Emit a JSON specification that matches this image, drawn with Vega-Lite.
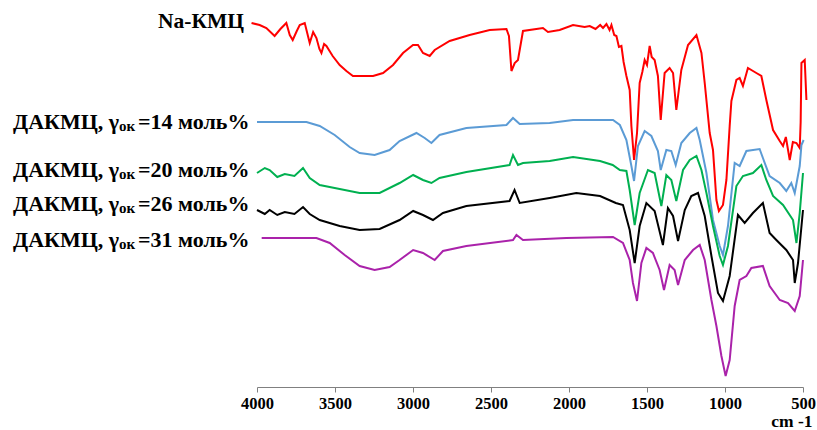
{
  "$schema": "https://vega.github.io/schema/vega-lite/v6.json",
  "autosize": "none",
  "width": 546,
  "height": 380,
  "padding": {"left": 257, "top": 7, "right": 14, "bottom": 43},
  "background": "white",
  "config": {"view": {"stroke": null}},
  "datasets": {
    "spectra": [
      {"series":"Na-КМЦ","wavenumber":4035,"signal":364},{"series":"Na-КМЦ","wavenumber":3983,"signal":362},{"series":"Na-КМЦ","wavenumber":3940,"signal":359},{"series":"Na-КМЦ","wavenumber":3887,"signal":351},{"series":"Na-КМЦ","wavenumber":3850,"signal":358},{"series":"Na-КМЦ","wavenumber":3812,"signal":364},{"series":"Na-КМЦ","wavenumber":3790,"signal":352},{"series":"Na-КМЦ","wavenumber":3771,"signal":347},{"series":"Na-КМЦ","wavenumber":3745,"signal":356},{"series":"Na-КМЦ","wavenumber":3726,"signal":362},{"series":"Na-КМЦ","wavenumber":3694,"signal":364},{"series":"Na-КМЦ","wavenumber":3662,"signal":344},{"series":"Na-КМЦ","wavenumber":3640,"signal":355},{"series":"Na-КМЦ","wavenumber":3619,"signal":349},{"series":"Na-КМЦ","wavenumber":3600,"signal":338},{"series":"Na-КМЦ","wavenumber":3587,"signal":334},{"series":"Na-КМЦ","wavenumber":3570,"signal":343},{"series":"Na-КМЦ","wavenumber":3555,"signal":341},{"series":"Na-КМЦ","wavenumber":3515,"signal":331},{"series":"Na-КМЦ","wavenumber":3470,"signal":322},{"series":"Na-КМЦ","wavenumber":3427,"signal":316},{"series":"Na-КМЦ","wavenumber":3385,"signal":311},{"series":"Na-КМЦ","wavenumber":3256,"signal":311},{"series":"Na-КМЦ","wavenumber":3192,"signal":314},{"series":"Na-КМЦ","wavenumber":3128,"signal":322},{"series":"Na-КМЦ","wavenumber":3064,"signal":334},{"series":"Na-КМЦ","wavenumber":3000,"signal":342},{"series":"Na-КМЦ","wavenumber":2968,"signal":342},{"series":"Na-КМЦ","wavenumber":2936,"signal":334},{"series":"Na-КМЦ","wavenumber":2893,"signal":331},{"series":"Na-КМЦ","wavenumber":2861,"signal":337},{"series":"Na-КМЦ","wavenumber":2765,"signal":346},{"series":"Na-КМЦ","wavenumber":2637,"signal":352},{"series":"Na-КМЦ","wavenumber":2508,"signal":357},{"series":"Na-КМЦ","wavenumber":2401,"signal":358},{"series":"Na-КМЦ","wavenumber":2385,"signal":351},{"series":"Na-КМЦ","wavenumber":2369,"signal":316},{"series":"Na-КМЦ","wavenumber":2348,"signal":324},{"series":"Na-КМЦ","wavenumber":2327,"signal":327},{"series":"Na-КМЦ","wavenumber":2295,"signal":356},{"series":"Na-КМЦ","wavenumber":2167,"signal":359},{"series":"Na-КМЦ","wavenumber":2135,"signal":355},{"series":"Na-КМЦ","wavenumber":2060,"signal":357},{"series":"Na-КМЦ","wavenumber":1974,"signal":362},{"series":"Na-КМЦ","wavenumber":1900,"signal":360},{"series":"Na-КМЦ","wavenumber":1867,"signal":361},{"series":"Na-КМЦ","wavenumber":1830,"signal":358},{"series":"Na-КМЦ","wavenumber":1800,"signal":362},{"series":"Na-КМЦ","wavenumber":1782,"signal":359},{"series":"Na-КМЦ","wavenumber":1760,"signal":363},{"series":"Na-КМЦ","wavenumber":1740,"signal":357},{"series":"Na-КМЦ","wavenumber":1728,"signal":362},{"series":"Na-КМЦ","wavenumber":1710,"signal":352},{"series":"Na-КМЦ","wavenumber":1696,"signal":351},{"series":"Na-КМЦ","wavenumber":1680,"signal":340},{"series":"Na-КМЦ","wavenumber":1664,"signal":341},{"series":"Na-КМЦ","wavenumber":1650,"signal":325},{"series":"Na-КМЦ","wavenumber":1632,"signal":311},{"series":"Na-КМЦ","wavenumber":1611,"signal":297},{"series":"Na-КМЦ","wavenumber":1600,"signal":261},{"series":"Na-КМЦ","wavenumber":1583,"signal":227},{"series":"Na-КМЦ","wavenumber":1564,"signal":254},{"series":"Na-КМЦ","wavenumber":1547,"signal":304},{"series":"Na-КМЦ","wavenumber":1530,"signal":315},{"series":"Na-КМЦ","wavenumber":1515,"signal":327},{"series":"Na-КМЦ","wavenumber":1500,"signal":322},{"series":"Na-КМЦ","wavenumber":1483,"signal":341},{"series":"Na-КМЦ","wavenumber":1470,"signal":330},{"series":"Na-КМЦ","wavenumber":1451,"signal":327},{"series":"Na-КМЦ","wavenumber":1430,"signal":311},{"series":"Na-КМЦ","wavenumber":1412,"signal":267},{"series":"Na-КМЦ","wavenumber":1387,"signal":314},{"series":"Na-КМЦ","wavenumber":1355,"signal":319},{"series":"Na-КМЦ","wavenumber":1333,"signal":314},{"series":"Na-КМЦ","wavenumber":1312,"signal":277},{"series":"Na-КМЦ","wavenumber":1280,"signal":317},{"series":"Na-КМЦ","wavenumber":1237,"signal":342},{"series":"Na-КМЦ","wavenumber":1183,"signal":352},{"series":"Na-КМЦ","wavenumber":1151,"signal":334},{"series":"Na-КМЦ","wavenumber":1130,"signal":304},{"series":"Na-КМЦ","wavenumber":1098,"signal":254},{"series":"Na-КМЦ","wavenumber":1077,"signal":237},{"series":"Na-КМЦ","wavenumber":1055,"signal":187},{"series":"Na-КМЦ","wavenumber":1039,"signal":176},{"series":"Na-КМЦ","wavenumber":1013,"signal":182},{"series":"Na-КМЦ","wavenumber":991,"signal":207},{"series":"Na-КМЦ","wavenumber":970,"signal":261},{"series":"Na-КМЦ","wavenumber":959,"signal":286},{"series":"Na-КМЦ","wavenumber":927,"signal":307},{"series":"Na-КМЦ","wavenumber":906,"signal":309},{"series":"Na-КМЦ","wavenumber":885,"signal":301},{"series":"Na-КМЦ","wavenumber":853,"signal":319},{"series":"Na-КМЦ","wavenumber":799,"signal":314},{"series":"Na-КМЦ","wavenumber":767,"signal":311},{"series":"Na-КМЦ","wavenumber":735,"signal":287},{"series":"Na-КМЦ","wavenumber":692,"signal":257},{"series":"Na-КМЦ","wavenumber":649,"signal":246},{"series":"Na-КМЦ","wavenumber":628,"signal":241},{"series":"Na-КМЦ","wavenumber":610,"signal":250},{"series":"Na-КМЦ","wavenumber":585,"signal":227},{"series":"Na-КМЦ","wavenumber":565,"signal":245},{"series":"Na-КМЦ","wavenumber":542,"signal":244},{"series":"Na-КМЦ","wavenumber":521,"signal":239},{"series":"Na-КМЦ","wavenumber":515,"signal":265},{"series":"Na-КМЦ","wavenumber":510,"signal":324},{"series":"Na-КМЦ","wavenumber":489,"signal":327},{"series":"Na-КМЦ","wavenumber":478,"signal":287},

      {"series":"14","wavenumber":4000,"signal":265},{"series":"14","wavenumber":3854,"signal":265},{"series":"14","wavenumber":3683,"signal":265},{"series":"14","wavenumber":3598,"signal":261},{"series":"14","wavenumber":3502,"signal":252},{"series":"14","wavenumber":3406,"signal":240},{"series":"14","wavenumber":3342,"signal":234},{"series":"14","wavenumber":3246,"signal":232},{"series":"14","wavenumber":3150,"signal":237},{"series":"14","wavenumber":3086,"signal":246},{"series":"14","wavenumber":2978,"signal":254},{"series":"14","wavenumber":2925,"signal":249},{"series":"14","wavenumber":2882,"signal":244},{"series":"14","wavenumber":2830,"signal":252},{"series":"14","wavenumber":2658,"signal":259},{"series":"14","wavenumber":2401,"signal":262},{"series":"14","wavenumber":2359,"signal":269},{"series":"14","wavenumber":2316,"signal":263},{"series":"14","wavenumber":2124,"signal":264},{"series":"14","wavenumber":1974,"signal":267},{"series":"14","wavenumber":1718,"signal":267},{"series":"14","wavenumber":1674,"signal":262},{"series":"14","wavenumber":1632,"signal":247},{"series":"14","wavenumber":1600,"signal":221},{"series":"14","wavenumber":1583,"signal":206},{"series":"14","wavenumber":1558,"signal":241},{"series":"14","wavenumber":1515,"signal":256},{"series":"14","wavenumber":1472,"signal":251},{"series":"14","wavenumber":1430,"signal":236},{"series":"14","wavenumber":1412,"signal":217},{"series":"14","wavenumber":1376,"signal":237},{"series":"14","wavenumber":1344,"signal":236},{"series":"14","wavenumber":1316,"signal":222},{"series":"14","wavenumber":1280,"signal":244},{"series":"14","wavenumber":1226,"signal":254},{"series":"14","wavenumber":1183,"signal":259},{"series":"14","wavenumber":1162,"signal":247},{"series":"14","wavenumber":1119,"signal":214},{"series":"14","wavenumber":1077,"signal":167},{"series":"14","wavenumber":1034,"signal":141},{"series":"14","wavenumber":1013,"signal":132},{"series":"14","wavenumber":981,"signal":161},{"series":"14","wavenumber":938,"signal":224},{"series":"14","wavenumber":906,"signal":221},{"series":"14","wavenumber":863,"signal":236},{"series":"14","wavenumber":778,"signal":238},{"series":"14","wavenumber":757,"signal":229},{"series":"14","wavenumber":714,"signal":211},{"series":"14","wavenumber":649,"signal":204},{"series":"14","wavenumber":607,"signal":196},{"series":"14","wavenumber":575,"signal":204},{"series":"14","wavenumber":553,"signal":194},{"series":"14","wavenumber":521,"signal":221},{"series":"14","wavenumber":510,"signal":242},{"series":"14","wavenumber":496,"signal":247},

      {"series":"20","wavenumber":4000,"signal":214},{"series":"20","wavenumber":3950,"signal":219},{"series":"20","wavenumber":3919,"signal":217},{"series":"20","wavenumber":3870,"signal":210},{"series":"20","wavenumber":3822,"signal":213},{"series":"20","wavenumber":3760,"signal":211},{"series":"20","wavenumber":3705,"signal":219},{"series":"20","wavenumber":3662,"signal":209},{"series":"20","wavenumber":3598,"signal":202},{"series":"20","wavenumber":3502,"signal":199},{"series":"20","wavenumber":3342,"signal":194},{"series":"20","wavenumber":3214,"signal":194},{"series":"20","wavenumber":3086,"signal":204},{"series":"20","wavenumber":2999,"signal":212},{"series":"20","wavenumber":2936,"signal":207},{"series":"20","wavenumber":2882,"signal":204},{"series":"20","wavenumber":2830,"signal":209},{"series":"20","wavenumber":2658,"signal":215},{"series":"20","wavenumber":2381,"signal":222},{"series":"20","wavenumber":2359,"signal":232},{"series":"20","wavenumber":2327,"signal":222},{"series":"20","wavenumber":2295,"signal":224},{"series":"20","wavenumber":2124,"signal":226},{"series":"20","wavenumber":1974,"signal":230},{"series":"20","wavenumber":1801,"signal":226},{"series":"20","wavenumber":1720,"signal":222},{"series":"20","wavenumber":1674,"signal":217},{"series":"20","wavenumber":1632,"signal":216},{"series":"20","wavenumber":1611,"signal":197},{"series":"20","wavenumber":1579,"signal":162},{"series":"20","wavenumber":1547,"signal":194},{"series":"20","wavenumber":1494,"signal":217},{"series":"20","wavenumber":1451,"signal":214},{"series":"20","wavenumber":1408,"signal":181},{"series":"20","wavenumber":1376,"signal":212},{"series":"20","wavenumber":1344,"signal":207},{"series":"20","wavenumber":1312,"signal":186},{"series":"20","wavenumber":1269,"signal":217},{"series":"20","wavenumber":1226,"signal":227},{"series":"20","wavenumber":1183,"signal":231},{"series":"20","wavenumber":1151,"signal":217},{"series":"20","wavenumber":1119,"signal":194},{"series":"20","wavenumber":1077,"signal":161},{"series":"20","wavenumber":1034,"signal":131},{"series":"20","wavenumber":1013,"signal":122},{"series":"20","wavenumber":981,"signal":141},{"series":"20","wavenumber":927,"signal":201},{"series":"20","wavenumber":885,"signal":211},{"series":"20","wavenumber":821,"signal":214},{"series":"20","wavenumber":767,"signal":222},{"series":"20","wavenumber":735,"signal":207},{"series":"20","wavenumber":692,"signal":191},{"series":"20","wavenumber":628,"signal":182},{"series":"20","wavenumber":564,"signal":167},{"series":"20","wavenumber":542,"signal":144},{"series":"20","wavenumber":521,"signal":174},{"series":"20","wavenumber":500,"signal":214},

      {"series":"26","wavenumber":4000,"signal":177},{"series":"26","wavenumber":3950,"signal":173},{"series":"26","wavenumber":3919,"signal":177},{"series":"26","wavenumber":3870,"signal":172},{"series":"26","wavenumber":3822,"signal":175},{"series":"26","wavenumber":3760,"signal":173},{"series":"26","wavenumber":3705,"signal":180},{"series":"26","wavenumber":3662,"signal":173},{"series":"26","wavenumber":3598,"signal":167},{"series":"26","wavenumber":3470,"signal":161},{"series":"26","wavenumber":3342,"signal":157},{"series":"26","wavenumber":3214,"signal":158},{"series":"26","wavenumber":3086,"signal":167},{"series":"26","wavenumber":2999,"signal":176},{"series":"26","wavenumber":2936,"signal":172},{"series":"26","wavenumber":2872,"signal":167},{"series":"26","wavenumber":2808,"signal":174},{"series":"26","wavenumber":2658,"signal":181},{"series":"26","wavenumber":2381,"signal":186},{"series":"26","wavenumber":2349,"signal":197},{"series":"26","wavenumber":2316,"signal":184},{"series":"26","wavenumber":2124,"signal":189},{"series":"26","wavenumber":1953,"signal":194},{"series":"26","wavenumber":1801,"signal":191},{"series":"26","wavenumber":1700,"signal":184},{"series":"26","wavenumber":1654,"signal":182},{"series":"26","wavenumber":1611,"signal":157},{"series":"26","wavenumber":1579,"signal":124},{"series":"26","wavenumber":1547,"signal":161},{"series":"26","wavenumber":1504,"signal":184},{"series":"26","wavenumber":1451,"signal":176},{"series":"26","wavenumber":1398,"signal":142},{"series":"26","wavenumber":1366,"signal":179},{"series":"26","wavenumber":1333,"signal":171},{"series":"26","wavenumber":1301,"signal":146},{"series":"26","wavenumber":1258,"signal":177},{"series":"26","wavenumber":1216,"signal":191},{"series":"26","wavenumber":1173,"signal":194},{"series":"26","wavenumber":1130,"signal":171},{"series":"26","wavenumber":1087,"signal":131},{"series":"26","wavenumber":1045,"signal":94},{"series":"26","wavenumber":1013,"signal":86},{"series":"26","wavenumber":970,"signal":111},{"series":"26","wavenumber":917,"signal":172},{"series":"26","wavenumber":874,"signal":164},{"series":"26","wavenumber":821,"signal":174},{"series":"26","wavenumber":757,"signal":184},{"series":"26","wavenumber":714,"signal":154},{"series":"26","wavenumber":671,"signal":147},{"series":"26","wavenumber":607,"signal":137},{"series":"26","wavenumber":564,"signal":127},{"series":"26","wavenumber":553,"signal":104},{"series":"26","wavenumber":532,"signal":124},{"series":"26","wavenumber":500,"signal":177},

      {"series":"31","wavenumber":3970,"signal":149},{"series":"31","wavenumber":3790,"signal":149},{"series":"31","wavenumber":3619,"signal":149},{"series":"31","wavenumber":3534,"signal":144},{"series":"31","wavenumber":3438,"signal":132},{"series":"31","wavenumber":3342,"signal":121},{"series":"31","wavenumber":3246,"signal":117},{"series":"31","wavenumber":3150,"signal":120},{"series":"31","wavenumber":3086,"signal":127},{"series":"31","wavenumber":2999,"signal":137},{"series":"31","wavenumber":2936,"signal":134},{"series":"31","wavenumber":2861,"signal":127},{"series":"31","wavenumber":2808,"signal":136},{"series":"31","wavenumber":2658,"signal":141},{"series":"31","wavenumber":2359,"signal":147},{"series":"31","wavenumber":2337,"signal":152},{"series":"31","wavenumber":2295,"signal":147},{"series":"31","wavenumber":2017,"signal":149},{"series":"31","wavenumber":1718,"signal":150},{"series":"31","wavenumber":1654,"signal":144},{"series":"31","wavenumber":1611,"signal":127},{"series":"31","wavenumber":1590,"signal":104},{"series":"31","wavenumber":1564,"signal":86},{"series":"31","wavenumber":1536,"signal":124},{"series":"31","wavenumber":1504,"signal":139},{"series":"31","wavenumber":1462,"signal":134},{"series":"31","wavenumber":1419,"signal":117},{"series":"31","wavenumber":1391,"signal":97},{"series":"31","wavenumber":1355,"signal":122},{"series":"31","wavenumber":1323,"signal":117},{"series":"31","wavenumber":1301,"signal":102},{"series":"31","wavenumber":1258,"signal":127},{"series":"31","wavenumber":1205,"signal":137},{"series":"31","wavenumber":1162,"signal":142},{"series":"31","wavenumber":1130,"signal":127},{"series":"31","wavenumber":1087,"signal":87},{"series":"31","wavenumber":1055,"signal":61},{"series":"31","wavenumber":1023,"signal":31},{"series":"31","wavenumber":996,"signal":11},{"series":"31","wavenumber":970,"signal":27},{"series":"31","wavenumber":938,"signal":81},{"series":"31","wavenumber":906,"signal":107},{"series":"31","wavenumber":863,"signal":111},{"series":"31","wavenumber":831,"signal":119},{"series":"31","wavenumber":757,"signal":121},{"series":"31","wavenumber":714,"signal":101},{"series":"31","wavenumber":649,"signal":87},{"series":"31","wavenumber":596,"signal":84},{"series":"31","wavenumber":553,"signal":76},{"series":"31","wavenumber":521,"signal":91},{"series":"31","wavenumber":500,"signal":127}
    ],
    "redLabel": [
      {"wavenumber":4000,"signal":365,"label":"Na-КМЦ"}
    ],
    "labels": [
      {"wavenumber":4000,"signal":265,"head":"ДАКМЦ, γ","sub":"ок","tail":"=14 моль%"},
      {"wavenumber":4000,"signal":217,"head":"ДАКМЦ, γ","sub":"ок","tail":"=20 моль%"},
      {"wavenumber":4000,"signal":183,"head":"ДАКМЦ, γ","sub":"ок","tail":"=26 моль%"},
      {"wavenumber":4000,"signal":147,"head":"ДАКМЦ, γ","sub":"ок","tail":"=31 моль%"}
    ]
  },
  "encoding": {
    "x": {
      "field": "wavenumber", "type": "quantitative",
      "scale": {"domain": [500, 4000], "reverse": true, "nice": false, "zero": false},
      "axis": {
        "values": [4000, 3500, 3000, 2500, 2000, 1500, 1000, 500],
        "format": "d", "grid": false, "labelFlush": false, "labelOverlap": false,
        "domainColor": "#808080", "tickColor": "#808080", "tickSize": 5,
        "labelFont": "Liberation Serif", "labelFontWeight": "bold", "labelFontSize": 16.5, "labelColor": "#000000", "labelPadding": 3,
        "title": "cm -1", "titleFont": "Liberation Serif", "titleFontWeight": "bold", "titleFontSize": 17.5, "titleColor": "#000000",
        "titleAnchor": "end", "titleAlign": "right", "titleBaseline": "bottom", "titleX": 555, "titleY": 43
      }
    },
    "y": {
      "field": "signal", "type": "quantitative",
      "scale": {"domain": [0, 380], "nice": false, "zero": false},
      "axis": null
    }
  },
  "layer": [
    {
      "data": {"name": "spectra"},
      "mark": {"type": "line", "strokeWidth": 2, "clip": false},
      "encoding": {
        "color": {"field": "series", "type": "nominal",
          "scale": {"domain": ["Na-КМЦ", "14", "20", "26", "31"], "range": ["#FF0000", "#5B9BD5", "#00B050", "#000000", "#AA22AA"]},
          "legend": null}
      }
    },
    {
      "data": {"name": "redLabel"},
      "mark": {"type": "text", "align": "right", "baseline": "middle", "dx": -13, "font": "Liberation Serif", "fontWeight": "bold", "fontSize": 21.5, "color": "#000000"},
      "encoding": {"text": {"field": "label"}}
    },
    {
      "data": {"name": "labels"},
      "mark": {"type": "text", "align": "left", "baseline": "middle", "dx": -244, "font": "Liberation Serif", "fontWeight": "bold", "fontSize": 22, "color": "#000000"},
      "encoding": {"text": {"field": "head"}}
    },
    {
      "data": {"name": "labels"},
      "mark": {"type": "text", "align": "left", "baseline": "middle", "dx": -138, "dy": 4, "font": "Liberation Serif", "fontWeight": "bold", "fontSize": 15, "color": "#000000"},
      "encoding": {"text": {"field": "sub"}}
    },
    {
      "data": {"name": "labels"},
      "mark": {"type": "text", "align": "left", "baseline": "middle", "dx": -119, "font": "Liberation Serif", "fontWeight": "bold", "fontSize": 22, "color": "#000000"},
      "encoding": {"text": {"field": "tail"}}
    }
  ]
}
